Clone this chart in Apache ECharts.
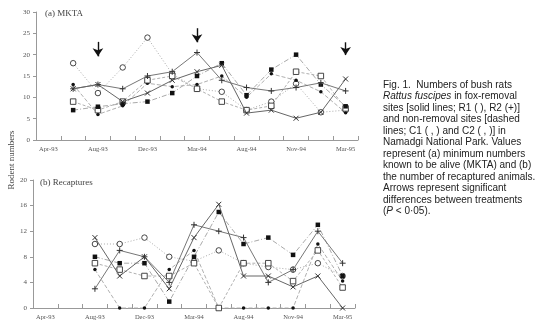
<!DOCTYPE html>
<html>
<head>
<meta charset="utf-8">
<script src="https://cdn.jsdelivr.net/npm/echarts@6/dist/echarts.min.js"></script>
<style>
html,body{margin:0;padding:0;background:#fff;}
#c{width:543px;height:325px;}
</style>
</head>
<body>
<div id="c"></div>
<script>
// ---- data ----
const categories = ['Apr-93','','Aug-93','','Dec-93','','Mar-94','','Aug-94','','Nov-94','','Mar-95'];
const mktaTicks = {min: 0, max: 30, interval: 5};
const recTicks = {min: 0, max: 20, interval: 4};

// (a) MKTA
const mktaR1     = [null,12,13,9,11,14,16,17.5,6.3,7,5.1,6.5,14.3];
const mktaR2     = [null,12,13,12,15,16,20.5,14,12.3,11.5,12.3,13.4,11.5];
const mktaC1open = [null,18,11,17,24,15.5,12,11.3,7,9,13.2,6.5,7];
const mktaC1fill = [null,13,6,8,13.3,12.5,13,15,10,15.5,14,11.3,6.4];
const mktaC2open = [null,9,7,9,14,15,12,9,7,8,16,15,7.4];
const mktaC2fill = [null,7,7.8,8.5,9,11,15,18,10.5,16.5,20,13,7.9];

// (b) Recaptures
const recR1     = [null,null,11,5,8,3,11,16.2,5,5,3.3,5,0];
const recR2     = [null,null,3,9,8,4,13,12,11,4,6,12,7];
const recC1open = [null,null,10,10,11,8,7.3,9,7,6.4,6,7,5];
const recC1fill = [null,null,6,0,0,6,9,0,0,0,0,10,4.2];
const recC2open = [null,null,7,6,5,5,7,0,7,7,4.2,9,3.2];
const recC2fill = [null,null,8,7,7,1,8,15,10,11,8.3,13,5];

// significant-difference arrows (category index, value range)
const arrowCats = [2, 6, 12];
const arrowFrom = [23, 26.2, 22.9];
const arrowTo   = [19.6, 22.9, 19.9];

const captionLines = [
  'Fig. 1.  Numbers of bush rats',
  '{i|Rattus fuscipes} in fox-removal',
  'sites [solid lines; R1 ( ), R2 (+)]',
  'and non-removal sites [dashed',
  'lines; C1 ( , ) and C2 ( , )] in',
  'Namadgi National Park. Values',
  'represent (a) minimum numbers',
  'known to be alive (MKTA) and (b)',
  'the number of recaptured animals.',
  'Arrows represent significant',
  'differences between treatments',
  '({i|P} < 0·05).'
];

// ---- styles ----
const SERIF = 'Liberation Serif';
const SANS = 'Liberation Sans';
const axisGrey = '#999';
const SYM = {
  cross: 'path://M0,0L8,8M8,0L0,8',
  plus: 'path://M4,0L4,8M0,4L8,4'
};
const styles = {
  R1:     {symbol: SYM.cross, size: 5, type: 'solid', color: '#666', width: 1, fill: '#333', mk: '#333', bw: 1, z: 6},
  R2:     {symbol: SYM.plus, size: 6, type: 'solid', color: '#777', width: 1, fill: '#333', mk: '#333', bw: 1, z: 5},
  C1open: {symbol: 'circle', size: 5.5, type: [1, 2], color: '#aaa', width: 1, fill: '#fff', mk: '#333', bw: 0.9, z: 3},
  C1fill: {symbol: 'circle', size: 3.5, type: [4, 2], color: '#b0b0b0', width: 1, fill: '#111', mk: '#111', bw: 0, z: 3},
  C2open: {symbol: 'rect', size: 5.5, type: [3, 2], color: '#b0b0b0', width: 1, fill: '#fff', mk: '#333', bw: 0.9, z: 3},
  C2fill: {symbol: 'rect', size: 4.5, type: [5, 2, 1, 2], color: '#aaa', width: 1, fill: '#111', mk: '#111', bw: 0, z: 3}
};

function mk(key, data, gi) {
  const s = styles[key];
  return {
    type: 'line', name: key + (gi ? 'b' : 'a'), xAxisIndex: gi, yAxisIndex: gi,
    data: data, symbol: s.symbol, symbolSize: s.size, showAllSymbol: true,
    z: s.z,
    lineStyle: {type: s.type, color: s.color, width: s.width},
    itemStyle: {color: s.fill, borderColor: s.mk, borderWidth: s.bw},
    emphasis: {disabled: true}
  };
}

function xAx(gi) {
  return {
    type: 'category', gridIndex: gi, data: categories, boundaryGap: true,
    axisLine: {lineStyle: {color: axisGrey, width: 1}},
    axisTick: {show: true, inside: true, length: 4, interval: 0, lineStyle: {color: axisGrey}},
    axisLabel: {interval: 0, fontSize: 6.5, fontFamily: SERIF, color: '#555', margin: 6},
    splitLine: {show: false}
  };
}
function yAx(gi, t) {
  return {
    type: 'value', gridIndex: gi, min: t.min, max: t.max, interval: t.interval,
    axisLine: {show: true, lineStyle: {color: axisGrey, width: 1}},
    axisTick: {show: true, length: 3, lineStyle: {color: axisGrey}},
    axisLabel: {fontSize: 7, fontFamily: SERIF, color: '#555', margin: 6},
    splitLine: {show: false}
  };
}

const series = [
  mk('C1open', mktaC1open, 0), mk('C1fill', mktaC1fill, 0),
  mk('C2open', mktaC2open, 0), mk('C2fill', mktaC2fill, 0),
  mk('R2', mktaR2, 0), mk('R1', mktaR1, 0),
  mk('C1open', recC1open, 1), mk('C1fill', recC1fill, 1),
  mk('C2open', recC2open, 1), mk('C2fill', recC2fill, 1),
  mk('R2', recR2, 1), mk('R1', recR1, 1)
];
series[5].markLine = {
  silent: true, symbol: ['none', 'arrow'], symbolSize: 8, animation: false,
  label: {show: false},
  lineStyle: {color: '#111', type: 'solid', width: 1.4},
  itemStyle: {color: '#111'},
  data: arrowCats.map((c, i) => [{coord: [c, arrowFrom[i]]}, {coord: [c, arrowTo[i]]}])
};

const chart = echarts.init(document.getElementById('c'), null, {renderer: 'canvas'});
chart.setOption({
  animation: false,
  backgroundColor: '#fff',
  grid: [
    {left: 36, top: 12, right: 185, bottom: 185},
    {left: 33, top: 180, right: 188, bottom: 17}
  ],
  xAxis: [xAx(0), xAx(1)],
  yAxis: [yAx(0, mktaTicks), yAx(1, recTicks)],
  series: series,
  graphic: [
    {type: 'text', left: 45, top: 9, style: {text: '(a) MKTA', font: '9px "Liberation Serif"', fill: '#444'}},
    {type: 'text', left: 40, top: 178, style: {text: '(b) Recaptures', font: '9px "Liberation Serif"', fill: '#444'}},
    {type: 'text', x: 12, y: 160, rotation: Math.PI / 2,
     style: {text: 'Rodent numbers', font: '9px "Liberation Serif"', fill: '#444', align: 'center', verticalAlign: 'middle'}},
    {type: 'text', left: 383, top: 79,
     style: {
       text: captionLines.join('\n'),
       fontSize: 10, fontFamily: SANS, lineHeight: 11.5, fill: '#222',
       rich: {i: {fontSize: 10, fontFamily: SANS, fontStyle: 'italic', lineHeight: 11.5, fill: '#222'}}
     }}
  ]
});
</script>
</body>
</html>
